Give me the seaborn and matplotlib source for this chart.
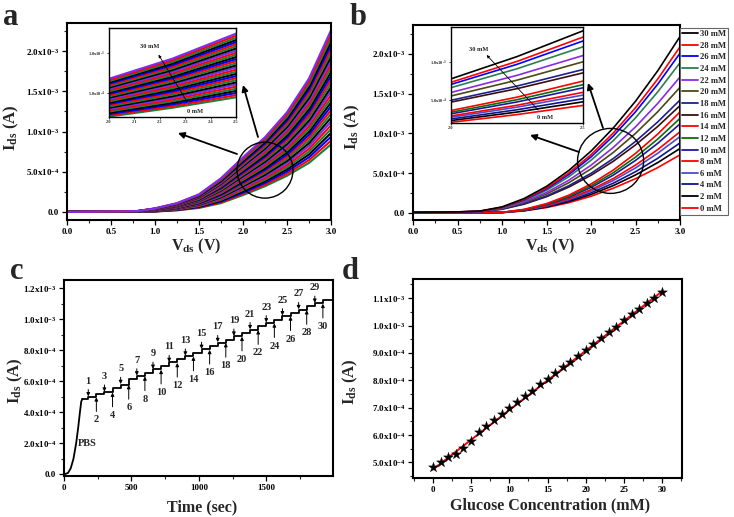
import numpy as np
import pandas as pd
import matplotlib
matplotlib.use('Agg')
import matplotlib.pyplot as plt
from matplotlib.patches import Ellipse
from matplotlib.lines import Line2D
from matplotlib.ticker import FuncFormatter, MultipleLocator, AutoMinorLocator, FixedLocator
import seaborn as sns

# ---------------- data (currents in units of 1e-3 A) ----------------
# panel a : output curves, 0..30 mM in 1 mM steps
a_vds = [0.0, 0.8, 1.0, 1.25, 1.5, 1.75, 2.0, 2.25, 2.5, 2.75, 3.0]
a_conc = [0, 1, 2, 3, 4, 5, 6, 7, 8, 9, 10, 11, 12, 13, 14, 15,
          16, 17, 18, 19, 20, 21, 22, 23, 24, 25, 26, 27, 28, 29, 30]
a_ids = [
    [0.0, 0.001, 0.005, 0.020, 0.050, 0.110, 0.210, 0.320, 0.450, 0.610, 0.840],
    [0.0, 0.001, 0.006, 0.023, 0.056, 0.120, 0.226, 0.340, 0.476, 0.645, 0.887],
    [0.0, 0.001, 0.008, 0.026, 0.061, 0.131, 0.241, 0.361, 0.503, 0.680, 0.935],
    [0.0, 0.001, 0.009, 0.029, 0.067, 0.141, 0.257, 0.381, 0.529, 0.715, 0.982],
    [0.0, 0.001, 0.010, 0.032, 0.073, 0.151, 0.273, 0.401, 0.555, 0.750, 1.029],
    [0.0, 0.002, 0.012, 0.035, 0.078, 0.162, 0.288, 0.422, 0.582, 0.785, 1.077],
    [0.0, 0.002, 0.013, 0.038, 0.084, 0.172, 0.304, 0.442, 0.608, 0.820, 1.124],
    [0.0, 0.002, 0.014, 0.041, 0.090, 0.182, 0.320, 0.462, 0.634, 0.855, 1.171],
    [0.0, 0.002, 0.016, 0.044, 0.095, 0.193, 0.335, 0.483, 0.661, 0.890, 1.219],
    [0.0, 0.002, 0.017, 0.047, 0.101, 0.203, 0.351, 0.503, 0.687, 0.925, 1.266],
    [0.0, 0.004, 0.018, 0.050, 0.107, 0.213, 0.367, 0.523, 0.713, 0.960, 1.313],
    [0.0, 0.004, 0.020, 0.053, 0.112, 0.224, 0.382, 0.544, 0.740, 0.995, 1.361],
    [0.0, 0.004, 0.021, 0.056, 0.118, 0.234, 0.398, 0.564, 0.766, 1.030, 1.408],
    [0.0, 0.004, 0.022, 0.059, 0.124, 0.244, 0.414, 0.584, 0.792, 1.065, 1.455],
    [0.0, 0.004, 0.024, 0.062, 0.129, 0.255, 0.429, 0.605, 0.819, 1.100, 1.503],
    [0.0, 0.006, 0.025, 0.065, 0.135, 0.265, 0.445, 0.625, 0.845, 1.135, 1.550],
    [0.0, 0.006, 0.026, 0.068, 0.141, 0.275, 0.461, 0.645, 0.871, 1.170, 1.597],
    [0.0, 0.006, 0.028, 0.071, 0.146, 0.286, 0.476, 0.666, 0.898, 1.205, 1.645],
    [0.0, 0.006, 0.029, 0.074, 0.152, 0.296, 0.492, 0.686, 0.924, 1.240, 1.692],
    [0.0, 0.006, 0.030, 0.077, 0.158, 0.306, 0.508, 0.706, 0.950, 1.275, 1.739],
    [0.0, 0.008, 0.032, 0.080, 0.163, 0.317, 0.523, 0.727, 0.977, 1.310, 1.787],
    [0.0, 0.008, 0.033, 0.083, 0.169, 0.327, 0.539, 0.747, 1.003, 1.345, 1.834],
    [0.0, 0.008, 0.034, 0.086, 0.175, 0.337, 0.555, 0.767, 1.029, 1.380, 1.881],
    [0.0, 0.008, 0.036, 0.089, 0.180, 0.348, 0.570, 0.788, 1.056, 1.415, 1.929],
    [0.0, 0.008, 0.037, 0.092, 0.186, 0.358, 0.586, 0.808, 1.082, 1.450, 1.976],
    [0.0, 0.011, 0.038, 0.095, 0.192, 0.368, 0.602, 0.828, 1.108, 1.485, 2.023],
    [0.0, 0.011, 0.040, 0.098, 0.197, 0.379, 0.617, 0.849, 1.135, 1.520, 2.071],
    [0.0, 0.011, 0.041, 0.101, 0.203, 0.389, 0.633, 0.869, 1.161, 1.555, 2.118],
    [0.0, 0.011, 0.042, 0.104, 0.209, 0.399, 0.649, 0.889, 1.187, 1.590, 2.165],
    [0.0, 0.011, 0.044, 0.107, 0.214, 0.410, 0.664, 0.910, 1.214, 1.625, 2.213],
    [0.0, 0.011, 0.045, 0.110, 0.220, 0.420, 0.680, 0.930, 1.240, 1.660, 2.260],
]
a_cycle = ['#17803c', 'red', 'blue', 'black', '#17803c', 'red', '#7a2cf0', 'black']

# panel b : output curves, 0..30 mM in 2 mM steps (legend order)
b_vds = [0.0, 0.5, 0.75, 1.0, 1.25, 1.5, 1.75, 2.0, 2.25, 2.5, 2.75, 3.0]
b_conc = [30, 28, 26, 24, 22, 20, 18, 16, 14, 12, 10, 8, 6, 4, 2, 0]
b_ids = [
    [0.008, 0.012, 0.022, 0.075, 0.181, 0.333, 0.533, 0.777, 1.068, 1.405, 1.789, 2.22],
    [0.008, 0.012, 0.021, 0.070, 0.171, 0.314, 0.502, 0.732, 1.005, 1.323, 1.685, 2.09],
    [0.007, 0.011, 0.020, 0.068, 0.164, 0.302, 0.482, 0.704, 0.967, 1.272, 1.620, 2.01],
    [0.007, 0.011, 0.019, 0.064, 0.154, 0.284, 0.454, 0.662, 0.909, 1.196, 1.523, 1.89],
    [0.006, 0.010, 0.017, 0.058, 0.140, 0.257, 0.410, 0.599, 0.823, 1.082, 1.378, 1.71],
    [0.006, 0.010, 0.016, 0.053, 0.129, 0.237, 0.379, 0.553, 0.760, 1.000, 1.273, 1.58],
    [0.005, 0.009, 0.015, 0.048, 0.116, 0.213, 0.341, 0.497, 0.683, 0.899, 1.145, 1.42],
    [0.005, 0.009, 0.014, 0.045, 0.110, 0.203, 0.324, 0.473, 0.649, 0.855, 1.088, 1.35],
    [0.002, 0.002, 0.003, 0.006, 0.044, 0.116, 0.222, 0.363, 0.538, 0.748, 0.992, 1.27],
    [0.002, 0.002, 0.003, 0.006, 0.041, 0.109, 0.208, 0.340, 0.505, 0.701, 0.929, 1.19],
    [0.002, 0.002, 0.003, 0.005, 0.039, 0.102, 0.196, 0.320, 0.475, 0.660, 0.875, 1.12],
    [0.001, 0.001, 0.002, 0.005, 0.035, 0.093, 0.179, 0.292, 0.432, 0.601, 0.797, 1.02],
    [0.001, 0.001, 0.002, 0.005, 0.033, 0.088, 0.168, 0.275, 0.407, 0.565, 0.750, 0.96],
    [0.001, 0.001, 0.002, 0.004, 0.030, 0.080, 0.154, 0.252, 0.373, 0.518, 0.687, 0.88],
    [0.001, 0.001, 0.002, 0.004, 0.028, 0.074, 0.142, 0.232, 0.343, 0.477, 0.633, 0.81],
    [0.000, 0.000, 0.001, 0.004, 0.025, 0.067, 0.128, 0.209, 0.310, 0.430, 0.570, 0.73],
]
b_colors = ['black', 'red', 'blue', '#2e7d4f', '#8a2be2', '#4a4a12', '#1f1f8f', '#3a0f0f',
            'red', '#0b6e0b', '#1a1a9e', 'red', '#4b4bd6', '#14148a', 'black', 'red']

# panel d : calibration (Ids in units of 1e-4 A)
d_conc = [0, 1, 2, 3, 4, 5, 6, 7, 8, 9, 10, 11, 12, 13, 14, 15,
          16, 17, 18, 19, 20, 21, 22, 23, 24, 25, 26, 27, 28, 29, 30]
d_ids = [4.84, 5.00, 5.18, 5.30, 5.54, 5.79, 6.12, 6.34, 6.55, 6.77, 6.98,
         7.21, 7.41, 7.62, 7.85, 8.05, 8.27, 8.49, 8.68, 8.90, 9.11,
         9.32, 9.54, 9.76, 9.96, 10.21, 10.41, 10.61, 10.82, 11.02, 11.22]
d_fit_x = [0, 30]
d_fit_y = [4.74, 11.25]

# panel c : amperometric response (Ids in units of 1e-4 A)
c_rise_t = [0, 30, 50, 70, 90, 105, 118, 128, 135]
c_rise_i = [0.0, 0.10, 0.40, 1.00, 2.00, 3.00, 4.00, 4.70, 4.84]
c_inject_t = [180, 240, 300, 360, 420, 480, 540, 600, 660, 720, 780, 840, 900, 960, 1020,
              1080, 1140, 1200, 1260, 1320, 1380, 1440, 1500, 1560, 1620, 1680, 1740, 1800, 1860, 1920]
c_end_t = 1985

# ---------------- style ----------------
sns.set_theme(style='ticks')
plt.rcParams.update({
    'font.family': ['Liberation Serif', 'DejaVu Serif'],
    'font.weight': 'bold',
    'axes.labelweight': 'bold',
    'mathtext.fontset': 'custom',
    'mathtext.rm': 'Liberation Serif:bold',
    'mathtext.it': 'Liberation Serif:bold',
    'mathtext.bf': 'Liberation Serif:bold',
    'axes.linewidth': 1.5,
    'axes.edgecolor': 'black',
})

W, H = 734, 517


def px(x, y):
    return (x / W, 1 - y / H)


def box(l, t, r, b):
    return [l / W, 1 - b / H, (r - l) / W, (b - t) / H]


def sci(v, pos):
    if abs(v) < 1e-12:
        return '0.0'
    e = int(np.floor(np.log10(abs(v)) + 1e-9))
    return f'{v / 10**e:.1f}x10$^{{{e}}}$'


def style(ax, xmaj, ymaj, xfmt, size=6.5):
    ax.xaxis.set_major_locator(MultipleLocator(xmaj))
    ax.xaxis.set_minor_locator(AutoMinorLocator(2))
    ax.yaxis.set_major_locator(MultipleLocator(ymaj))
    ax.yaxis.set_minor_locator(AutoMinorLocator(2))
    ax.xaxis.set_major_formatter(xfmt)
    ax.yaxis.set_major_formatter(FuncFormatter(sci))
    ax.tick_params(which='major', direction='out', length=3.5, width=0.9, labelsize=size, pad=2,
                   colors='black')
    ax.tick_params(which='minor', direction='out', length=2, width=0.8)
    ax.tick_params(top=False, right=False, which='both')
    for s in ax.spines.values():
        s.set_visible(True)
        s.set_linewidth(1.5)
    ax.set_facecolor('white')


fig = plt.figure(figsize=(7.34, 5.17), dpi=100)
fig.patch.set_facecolor('white')

# ---------------- panel a ----------------
df_a = pd.DataFrame([{'V': v, 'I': i * 1e-3, 'conc': f'{c} mM'}
                     for c, row in zip(a_conc, a_ids) for v, i in zip(a_vds, row)])
a_order = [f'{c} mM' for c in a_conc]
a_pal = [a_cycle[k % len(a_cycle)] for k in range(len(a_conc))]

ax_a = fig.add_axes(box(67, 23, 331, 220))
sns.lineplot(data=df_a, x='V', y='I', hue='conc', hue_order=a_order, palette=a_pal,
             legend=False, estimator=None, sort=False, lw=1.5, ax=ax_a)
ax_a.set_xlim(0, 3.0)
ax_a.set_ylim(-1e-4, 2.35e-3)
style(ax_a, 0.5, 5e-4, FuncFormatter(lambda v, p: f'{v:.1f}'))
ax_a.set_xlabel(r'V$_{ds}$ (V)', fontsize=11.5)
ax_a.set_ylabel(r'I$_{ds}$ (A)', fontsize=12)
ax_a.xaxis.set_label_coords(0.49, -0.085)
ax_a.yaxis.set_label_coords(-0.175, 0.47)
ax_a.add_patch(Ellipse((2.25, 0.52e-3), 0.636, 0.696e-3, fill=False, ec='black', lw=1.0, zorder=5))
for tail, head in [((237, 154), (178, 133)), ((258, 137), (243, 85))]:
    ax_a.annotate('', xy=px(*head), xytext=px(*tail), xycoords='figure fraction',
                  textcoords='figure fraction',
                  arrowprops=dict(arrowstyle='-|>', color='black', lw=1.3, mutation_scale=9,
                                  shrinkA=0, shrinkB=0))

ax_ia = fig.add_axes(box(109, 28, 236, 117))
sns.lineplot(data=df_a, x='V', y='I', hue='conc', hue_order=a_order, palette=a_pal,
             legend=False, estimator=None, sort=False, lw=1.5, ax=ax_ia)
ax_ia.set_xlim(2.0, 2.5)
ax_ia.set_ylim(0.205e-3, 1.31e-3)
ax_ia.set_xlabel('')
ax_ia.set_ylabel('')
ax_ia.xaxis.set_major_locator(MultipleLocator(0.1))
ax_ia.xaxis.set_major_formatter(FuncFormatter(lambda v, p: f'{v:.1f}'))
ax_ia.yaxis.set_major_locator(FixedLocator([5e-4, 1e-3]))
ax_ia.yaxis.set_major_formatter(FuncFormatter(sci))
ax_ia.tick_params(direction='out', length=1.5, width=0.6, labelsize=3.2, pad=1)
for s in ax_ia.spines.values():
    s.set_linewidth(1.0)
ax_ia.text(0.318, 0.79, '30 mM', transform=ax_ia.transAxes, fontsize=4.6, ha='center', va='center')
ax_ia.text(0.68, 0.065, '0 mM', transform=ax_ia.transAxes, fontsize=4.6, ha='center', va='center')
ax_ia.annotate('', xy=(0.39, 0.70), xytext=(0.613, 0.175), xycoords='axes fraction',
               arrowprops=dict(arrowstyle='-|>', color='black', lw=0.6, mutation_scale=4,
                               shrinkA=0, shrinkB=0))

# ---------------- panel b ----------------
df_b = pd.DataFrame([{'V': v, 'I': i * 1e-3, 'conc': f'{c} mM'}
                     for c, row in zip(b_conc, b_ids) for v, i in zip(b_vds, row)])
b_order = [f'{c} mM' for c in b_conc]

ax_b = fig.add_axes(box(413, 25, 680, 220))
sns.lineplot(data=df_b, x='V', y='I', hue='conc', hue_order=b_order[::-1], palette=b_colors[::-1],
             legend=False, estimator=None, sort=False, lw=1.2, ax=ax_b)
ax_b.set_xlim(0, 3.0)
ax_b.set_ylim(-0.09e-3, 2.365e-3)
style(ax_b, 0.5, 5e-4, FuncFormatter(lambda v, p: f'{v:.1f}'))
ax_b.set_xlabel(r'V$_{ds}$ (V)', fontsize=11.5)
ax_b.set_ylabel(r'I$_{ds}$ (A)', fontsize=12)
ax_b.xaxis.set_label_coords(0.513, -0.085)
ax_b.yaxis.set_label_coords(-0.19, 0.477)
ax_b.add_patch(Ellipse((2.22, 0.654e-3), 0.742, 0.818e-3, fill=False, ec='black', lw=1.0, zorder=5))
for tail, head in [((579, 152), (530, 135)), ((603, 128), (588, 83))]:
    ax_b.annotate('', xy=px(*head), xytext=px(*tail), xycoords='figure fraction',
                  textcoords='figure fraction',
                  arrowprops=dict(arrowstyle='-|>', color='black', lw=1.3, mutation_scale=9,
                                  shrinkA=0, shrinkB=0))
handles = [Line2D([], [], color=c, lw=1.3) for c in b_colors]
leg = ax_b.legend(handles, b_order, loc='upper left', bbox_to_anchor=(1.0, 0.985),
                  borderaxespad=0, fontsize=6.2, handlelength=1.8, handletextpad=0.25,
                  labelspacing=0.42, borderpad=0.25, fancybox=False, framealpha=1,
                  edgecolor='0.4')
leg.get_frame().set_linewidth(0.8)

ax_ib = fig.add_axes(box(451, 27, 583, 123))
sns.lineplot(data=df_b, x='V', y='I', hue='conc', hue_order=b_order[::-1], palette=b_colors[::-1],
             legend=False, estimator=None, sort=False, lw=1.2, ax=ax_ib)
ax_ib.set_xlim(2.0, 2.5)
ax_ib.set_ylim(0.20e-3, 1.455e-3)
ax_ib.set_xlabel('')
ax_ib.set_ylabel('')
ax_ib.xaxis.set_major_locator(FixedLocator([2.0, 2.5]))
ax_ib.xaxis.set_major_formatter(FuncFormatter(lambda v, p: f'{v:.1f}'))
ax_ib.yaxis.set_major_locator(FixedLocator([5e-4, 1e-3]))
ax_ib.yaxis.set_major_formatter(FuncFormatter(sci))
ax_ib.tick_params(direction='out', length=1.5, width=0.6, labelsize=3.2, pad=1)
for s in ax_ib.spines.values():
    s.set_linewidth(1.0)
ax_ib.text(0.207, 0.77, '30 mM', transform=ax_ib.transAxes, fontsize=4.6, ha='center', va='center')
ax_ib.text(0.712, 0.06, '0 mM', transform=ax_ib.transAxes, fontsize=4.6, ha='center', va='center')
ax_ib.annotate('', xy=(0.27, 0.708), xytext=(0.661, 0.135), xycoords='axes fraction',
               arrowprops=dict(arrowstyle='-|>', color='black', lw=0.6, mutation_scale=4,
                               shrinkA=0, shrinkB=0))

# ---------------- panel c ----------------
ax_c = fig.add_axes(box(64, 280, 333, 476))
step_t = [c_rise_t[-1]] + c_inject_t + [c_end_t]
step_i = [d_ids[0]] + d_ids[1:] + [d_ids[-1]]
sns.lineplot(x=c_rise_t, y=[v * 1e-4 for v in c_rise_i], color='black', lw=1.3,
             estimator=None, sort=False, ax=ax_c)
sns.lineplot(x=step_t, y=[v * 1e-4 for v in step_i], color='black', lw=1.3,
             estimator=None, sort=False, drawstyle='steps-post', ax=ax_c)
ax_c.set_xlim(0, 1995)
ax_c.set_ylim(-0.1e-4, 1.252e-3)
style(ax_c, 500, 2e-4, FuncFormatter(lambda v, p: f'{v:.0f}'))
ax_c.set_xlabel('Time (sec)', fontsize=11.5)
ax_c.set_ylabel(r'I$_{ds}$ (A)', fontsize=12)
ax_c.xaxis.set_label_coords(0.513, -0.12)
ax_c.yaxis.set_label_coords(-0.145, 0.485)
for k, t in enumerate(c_inject_t, start=1):
    before, after = d_ids[k - 1] * 1e-4, d_ids[k] * 1e-4
    if k % 2:
        ax_c.annotate(str(k), xy=(t, after + 0.03e-4), xytext=(t, after + 0.72e-4),
                      ha='center', va='bottom', fontsize=7.5,
                      arrowprops=dict(arrowstyle='-|>', color='black', lw=0.7, mutation_scale=5,
                                      shrinkA=0.5, shrinkB=0))
    else:
        ax_c.annotate(str(k), xy=(t, before - 0.03e-4), xytext=(t, before - 1.2e-4),
                      ha='center', va='top', fontsize=7.5,
                      arrowprops=dict(arrowstyle='-|>', color='black', lw=0.7, mutation_scale=5,
                                      shrinkA=0.5, shrinkB=0))
ax_c.text(170, 1.97e-4, 'PBS', fontsize=7.5, ha='center', va='center')

# ---------------- panel d ----------------
ax_d = fig.add_axes(box(413, 279, 682, 478))
sns.lineplot(x=d_fit_x, y=[v * 1e-4 for v in d_fit_y], color='red', lw=1.4, ax=ax_d, zorder=2)
sns.scatterplot(x=d_conc, y=[v * 1e-4 for v in d_ids], marker='*', s=55, color='black',
                edgecolor='black', linewidth=0.3, ax=ax_d, zorder=3)
ax_d.set_xlim(-2.6, 32.6)
ax_d.set_ylim(4.43e-4, 1.17e-3)
style(ax_d, 5, 1e-4, FuncFormatter(lambda v, p: f'{v:.0f}'))
ax_d.set_xlabel('Glucose Concentration (mM)', fontsize=11.5)
ax_d.set_ylabel(r'I$_{ds}$ (A)', fontsize=12)
ax_d.xaxis.set_label_coords(0.508, -0.095)
ax_d.yaxis.set_label_coords(-0.196, 0.485)

# ---------------- panel letters ----------------
for letter, x, y in [('a', 3, 25), ('b', 350, 25), ('c', 10, 279), ('d', 342, 279)]:
    fig.text(*px(x, y), letter, fontsize=22, fontweight='bold', ha='left', va='baseline')

fig.savefig('out.png', dpi=100)
